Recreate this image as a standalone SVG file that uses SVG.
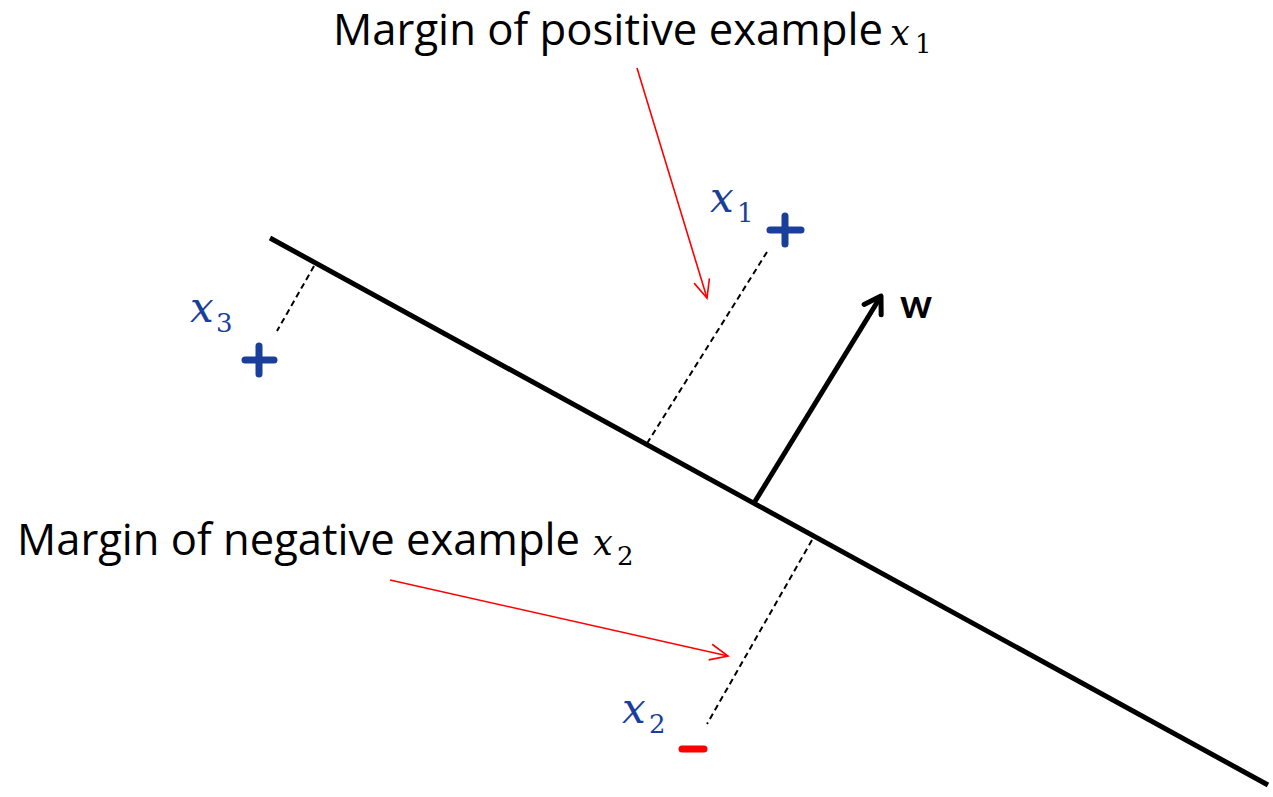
<svg xmlns="http://www.w3.org/2000/svg" width="1273" height="797" viewBox="0 0 1273 797">
<defs>
<style>
.title{font-family:"Open Sans","Lato",sans-serif;font-size:43px;fill:#000}
.mx{font-family:"DejaVu Serif","Liberation Serif",serif;font-style:italic;font-size:42px}
.tmx{font-family:"DejaVu Serif","Liberation Serif",serif;font-style:italic;font-size:35px}
.sub{font-family:"DejaVu Serif","Liberation Serif",serif;font-style:normal;font-size:26px}
.blue{fill:#1a3f9a}
.dash{stroke:#000;stroke-width:2;stroke-dasharray:6,4;fill:none}
.red{stroke:#ff0000;stroke-width:1.6;fill:none}
.plus{stroke:#1a3f9a;stroke-width:7;stroke-linecap:round}
</style>
<marker id="ro" markerWidth="24" markerHeight="24" refX="20" refY="12" orient="auto" markerUnits="userSpaceOnUse">
<path d="M2,4 L20,12 L2,20" fill="none" stroke="#ff0000" stroke-width="1.6"/>
</marker>
<marker id="bo" markerWidth="30" markerHeight="30" refX="22" refY="15" orient="auto" markerUnits="userSpaceOnUse">
<path d="M6,5 L22,15 L6,25" fill="none" stroke="#000" stroke-width="5" stroke-linecap="round" stroke-linejoin="round"/>
</marker>
</defs>
<rect width="1273" height="797" fill="#fff"/>
<g id="hyperplane">
<line x1="270" y1="238" x2="1268" y2="785" stroke="#000" stroke-width="5"/>
</g>
<g id="w-vector">
<line x1="754" y1="503" x2="881" y2="296" stroke="#000" stroke-width="5" marker-end="url(#bo)"/>
<text x="900" y="318" font-family="Lato,'Open Sans',sans-serif" font-weight="bold" font-size="40" fill="#000">w</text>
</g>
<g id="x1">
<line class="plus" x1="770" y1="230" x2="801" y2="230"/>
<line class="plus" x1="785" y1="216" x2="785" y2="244"/>
<text class="mx blue" x="710" y="212">x</text>
<text class="sub blue" x="737" y="222">1</text>
</g>
<g id="x3">
<line class="plus" x1="245" y1="360" x2="274" y2="360"/>
<line class="plus" x1="259" y1="346" x2="259" y2="374"/>
<text class="mx blue" x="190" y="322">x</text>
<text class="sub blue" x="216" y="332">3</text>
</g>
<g id="x2">
<line x1="682" y1="749" x2="704" y2="749" stroke="#ff0000" stroke-width="7" stroke-linecap="round"/>
<text class="mx blue" x="622" y="723">x</text>
<text class="sub blue" x="649" y="733">2</text>
</g>
<g id="label-positive">
<text class="title" x="333" y="45" textLength="550" lengthAdjust="spacingAndGlyphs">Margin of positive example</text>
<text class="tmx" x="890" y="45">x</text>
<text class="sub" x="915" y="53">1</text>
</g>
<g id="label-negative">
<text class="title" x="17" y="555" textLength="563" lengthAdjust="spacingAndGlyphs">Margin of negative example</text>
<text class="tmx" x="593" y="555">x</text>
<text class="sub" x="617" y="565">2</text>
</g>
<g id="connectors">
<line class="dash" x1="767" y1="252" x2="646" y2="445"/>
<line class="dash" x1="314" y1="266" x2="277" y2="331"/>
<line class="dash" x1="812" y1="540" x2="707" y2="724"/>
<line class="red" x1="637" y1="68" x2="707" y2="298" marker-end="url(#ro)"/>
<line class="red" x1="390" y1="580" x2="728" y2="656" marker-end="url(#ro)"/>
</g>
</svg>
